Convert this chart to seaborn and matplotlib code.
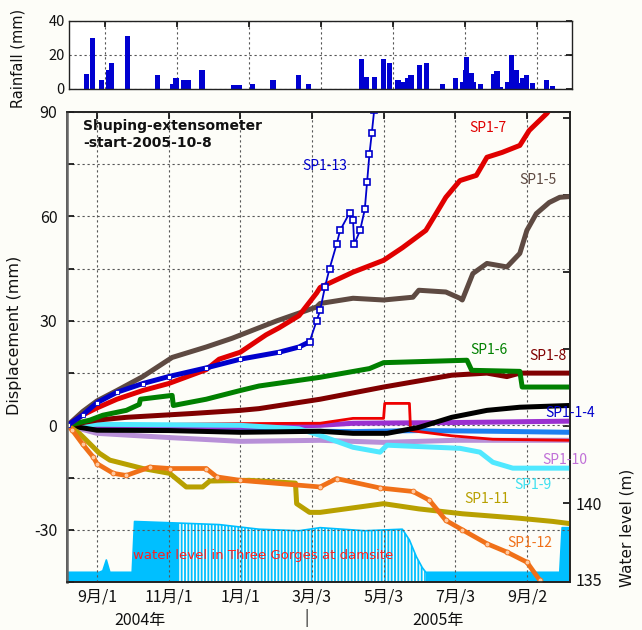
#!/usr/bin/env python3
# plot.py - Shuping extensometer displacement, rainfall and reservoir water level

import matplotlib
matplotlib.use('Agg')
import matplotlib.pyplot as plt
import numpy as np
import pandas as pd
import seaborn as sns

sns.set_theme(style='white')
plt.rcParams['font.family'] = ['DejaVu Sans', 'Noto Sans CJK JP']
plt.rcParams['hatch.linewidth'] = 1.3
CJK = ['Noto Sans CJK JP', 'DejaVu Sans']

# ---- rainfall (mm) ----
rain_dates = ['2004-08-14', '2004-08-19', '2004-08-27', '2004-09-02', '2004-09-04',
              '2004-09-18', '2004-10-13', '2004-10-26', '2004-10-29', '2004-11-04',
              '2004-11-08', '2004-11-20', '2004-12-17', '2004-12-22', '2005-01-02',
              '2005-01-19', '2005-02-10', '2005-02-18', '2005-04-04', '2005-04-08',
              '2005-04-15', '2005-04-23', '2005-04-28', '2005-05-05', '2005-05-09',
              '2005-05-13', '2005-05-16', '2005-05-23', '2005-05-29', '2005-06-12',
              '2005-06-23', '2005-06-29', '2005-07-01', '2005-07-02', '2005-07-06',
              '2005-07-08', '2005-07-14', '2005-07-25', '2005-07-28', '2005-07-31',
              '2005-08-06', '2005-08-09', '2005-08-13', '2005-08-16', '2005-08-19',
              '2005-08-22', '2005-08-27', '2005-09-08', '2005-09-13']
rain_mm = [9, 30, 5, 11, 15, 31, 8.3, 3, 6.4, 5, 5, 11.3, 2.3, 2.3, 3, 5, 8.3, 3,
           17.5, 7, 7.2, 17.5, 15, 5, 4, 6.4, 8.3, 14, 15.3, 3, 6.4, 4, 11, 18.6, 9.7,
           4, 3, 9, 10.7, 1, 4, 20, 11, 3.3, 6.4, 8.3, 3.3, 5, 2]

# ---- water level in Three Gorges at damsite (m) ----
water_dates = ['2004-08-07', '2004-09-03', '2004-09-06', '2004-09-09', '2004-09-12',
               '2004-10-01', '2004-10-03', '2004-11-09', '2004-12-14', '2005-01-17',
               '2005-02-20', '2005-03-10', '2005-04-17', '2005-05-19', '2005-05-25',
               '2005-05-31', '2005-06-05', '2005-06-08', '2005-09-30', '2005-10-02',
               '2005-10-08']
water_level = [135.5, 135.5, 135.6, 136.3, 135.5, 135.5, 138.8, 138.7, 138.6, 138.3,
               138.2, 138.4, 138.2, 138.3, 137.6, 136.5, 135.8, 135.5, 135.5, 138.4,
               138.4]

# ---- extensometer displacement (mm) ----
sp13_dates = ['2004-08-07', '2004-08-20', '2004-09-01', '2004-09-18', '2004-10-10',
              '2004-11-01', '2004-12-03', '2005-01-01', '2005-02-03', '2005-02-20',
              '2005-03-01', '2005-03-07', '2005-03-10', '2005-03-14', '2005-03-18',
              '2005-03-24', '2005-03-27', '2005-04-04', '2005-04-07', '2005-04-08',
              '2005-04-13', '2005-04-17', '2005-04-19', '2005-04-21', '2005-04-23',
              '2005-04-25']
sp13_mm = [0, 3, 6.5, 9.5, 12, 14, 16.5, 19, 21, 22.5, 24, 30, 33, 39.6, 45, 52, 56,
           61, 59, 52, 56, 62, 70, 78, 84, 90.5]

sp7_dates = ['2004-08-07', '2004-08-20', '2004-09-01', '2004-09-18', '2004-10-10',
             '2004-11-01', '2004-12-03', '2004-12-14', '2005-01-01', '2005-01-23',
             '2005-02-03', '2005-02-20', '2005-03-07', '2005-03-10', '2005-04-07',
             '2005-05-03', '2005-05-19', '2005-06-08', '2005-06-17', '2005-06-25',
             '2005-07-07', '2005-07-21', '2005-07-30', '2005-08-12', '2005-08-27',
             '2005-09-04', '2005-09-19', '2005-09-21']
sp7_mm = [0, 3, 5, 7.5, 10, 12, 16, 19, 21, 26, 28, 31.5, 38, 39.6, 44, 47.4, 51, 56,
          61, 65.5, 70.3, 71.8, 77, 78.4, 80.4, 84.7, 89.6, 90.5]

sp5_dates = ['2004-08-07', '2004-08-20', '2004-09-01', '2004-09-18', '2004-10-10',
             '2004-11-04', '2004-12-03', '2004-12-25', '2005-02-01', '2005-03-07',
             '2005-03-10', '2005-04-07', '2005-05-03', '2005-05-28', '2005-06-02',
             '2005-06-25', '2005-07-07', '2005-07-09', '2005-07-18', '2005-07-30',
             '2005-08-16', '2005-08-27', '2005-09-02', '2005-09-10', '2005-09-21',
             '2005-09-30', '2005-10-08']
sp5_mm = [0, 4, 7, 10, 14, 19.5, 22.5, 25, 30, 34, 35, 36.5, 36, 36.8, 38.8, 38.3,
          36.5, 36, 43.6, 46.5, 45.5, 49.4, 56, 60.8, 64, 65.5, 65.7]

sp6_dates = ['2004-08-07', '2004-08-26', '2004-09-06', '2004-09-26', '2004-10-07',
             '2004-10-08', '2004-11-04', '2004-11-05', '2004-12-03', '2005-01-01',
             '2005-01-17', '2005-03-10', '2005-04-21', '2005-05-03', '2005-07-13',
             '2005-07-17', '2005-08-27', '2005-08-29', '2005-10-08']
sp6_mm = [0, 1.5, 2.9, 4.3, 6, 7.5, 8.6, 5.7, 7.5, 10, 11.3, 13.8, 16.3, 18, 18.7,
          15.8, 15.5, 11, 11]

sp8_dates = ['2004-08-07', '2004-09-01', '2004-09-26', '2004-11-21', '2005-01-01',
             '2005-01-17', '2005-03-10', '2005-05-03', '2005-06-30', '2005-07-30',
             '2005-08-16', '2005-08-27', '2005-10-08']
sp8_mm = [0, 1.5, 2.3, 3.4, 4.3, 4.8, 7.5, 11, 14.4, 15, 14, 15, 15]

sp14_dates = ['2004-08-07', '2004-09-01', '2004-11-01', '2005-01-01', '2005-03-10',
              '2005-04-07', '2005-05-06', '2005-06-02', '2005-06-30', '2005-07-30',
              '2005-08-27', '2005-10-08']
sp14_mm = [0, -1.4, -1.5, -2, -1.7, -2.3, -2.3, -0.6, 2.3, 4.3, 5.2, 5.7]

azure_dates = ['2004-08-07', '2004-09-01', '2005-01-01', '2005-04-07', '2005-06-02',
               '2005-08-04', '2005-10-08']
azure_mm = [0, -0.8, -1.5, -1.8, -1.5, -1.7, -2]

violet_dates = ['2004-08-07', '2005-01-01', '2005-03-10', '2005-04-07', '2005-07-03',
                '2005-10-08']
violet_mm = [0, -0.5, 0, 0.6, 0.8, 1.2]

red2_dates = ['2004-08-07', '2005-01-01', '2005-03-10', '2005-04-07', '2005-05-03',
              '2005-05-04', '2005-05-25', '2005-05-26', '2005-06-30', '2005-08-04',
              '2005-10-08']
red2_mm = [0, 0.5, 0.6, 2, 2, 6.3, 6.3, -1.5, -3, -4, -4.3]

sp10_dates = ['2004-08-07', '2004-09-01', '2004-11-01', '2005-01-01', '2005-03-10',
              '2005-05-03', '2005-07-03', '2005-10-08']
sp10_mm = [0, -2.3, -3.5, -4.6, -4.3, -4.9, -4.3, -4.3]

sp9_dates = ['2004-08-07', '2004-09-01', '2005-01-01', '2005-02-20', '2005-03-10',
             '2005-04-07', '2005-04-30', '2005-05-06', '2005-07-07', '2005-07-24',
             '2005-08-04', '2005-08-21', '2005-10-08']
sp9_mm = [0, 0.3, 0, -1, -2.9, -6.3, -7.7, -5.7, -6.6, -7.7, -10.6, -12.3, -12.3]

sp11_dates = ['2004-08-07', '2004-08-17', '2004-08-29', '2004-09-03', '2004-09-12',
              '2004-10-10', '2004-11-02', '2004-11-16', '2004-11-30', '2004-12-06',
              '2005-01-09', '2005-02-17', '2005-02-18', '2005-03-01', '2005-03-10',
              '2005-05-03', '2005-06-02', '2005-07-09', '2005-08-27', '2005-09-24',
              '2005-10-08']
sp11_mm = [0, -2.3, -6.3, -8, -10, -12.4, -13.8, -17.7, -17.7, -16, -15.8, -16.6,
           -22.5, -25, -25, -22.5, -24, -25.4, -26.7, -27.6, -28.2]

sp12_dates = ['2004-08-07', '2004-08-11', '2004-08-20', '2004-08-29', '2004-09-01',
              '2004-09-15', '2004-09-26', '2004-10-16', '2004-11-02', '2004-12-03',
              '2004-12-12', '2005-01-01', '2005-03-10', '2005-03-24', '2005-04-30',
              '2005-05-28', '2005-06-11', '2005-06-25', '2005-07-09', '2005-07-30',
              '2005-08-16', '2005-09-02', '2005-09-13']
sp12_mm = [0, -1.4, -5.5, -9.2, -11, -13.8, -14.4, -12, -12.4, -12.4, -14.8, -15.8,
           -17.7, -15.3, -18, -19, -21.5, -27.3, -30, -34, -36.4, -39.3, -44.5]

tick_dates = ['2004-09-01', '2004-11-01', '2005-01-01', '2005-03-03', '2005-05-03',
              '2005-07-03', '2005-09-02']
tick_labels = ['9月/1', '11月/1', '1月/1', '3月/3', '5月/3', '7月/3', '9月/2']

# name: (dates, values, colour, linewidth)
series = {
    'SP1-10': (sp10_dates, sp10_mm, '#B890D8', 3.6),
    'azure': (azure_dates, azure_mm, '#1E7FF0', 3.6),
    'violet': (violet_dates, violet_mm, '#9B30D0', 3.6),
    'red2': (red2_dates, red2_mm, '#EE0000', 2.0),
    'SP1-9': (sp9_dates, sp9_mm, '#50E8FF', 3.6),
    'SP1-1-4': (sp14_dates, sp14_mm, '#000000', 3.6),
    'SP1-8': (sp8_dates, sp8_mm, '#800000', 3.6),
    'SP1-6': (sp6_dates, sp6_mm, '#008000', 3.6),
    'SP1-11': (sp11_dates, sp11_mm, '#B8A000', 3.6),
    'SP1-5': (sp5_dates, sp5_mm, '#5E4A42', 3.6),
    'SP1-7': (sp7_dates, sp7_mm, '#E00000', 3.6),
}

fig = plt.figure(figsize=(6.42, 6.30), dpi=100)
fig.patch.set_facecolor('#FDFDF8')

# ---------------- rainfall panel ----------------
axr = fig.add_axes([69 / 642, 1 - 89 / 630, 503 / 642, 68 / 630])
axr.set_facecolor('white')
axr.bar(pd.to_datetime(rain_dates), rain_mm, width=4.5, align='edge',
        color='#0000D0', linewidth=0)
axr.set_xlim(pd.Timestamp('2004-08-01 12:00'), pd.Timestamp('2005-10-01 17:00'))
axr.set_ylim(0, 40)
axr.set_yticks([0, 20, 40])
axr.set_xticks(pd.to_datetime(tick_dates))
axr.set_xticklabels([])
axr.tick_params(direction='in', length=4, top=True, right=True, bottom=False,
                labelsize=10.5, pad=3, colors='#111111')
for lbl in axr.get_yticklabels():
    lbl.set_fontfamily(CJK)
axr.grid(True, linestyle=(0, (2, 2.5)), color='#555555', linewidth=0.8)
for s in axr.spines.values():
    s.set_color('#222222')
    s.set_linewidth(1.0)
axr.set_ylabel('Rainfall (mm)', fontsize=10.5, color='#111111')
axr.yaxis.set_label_coords(-0.087, 0.45)

# ---------------- main panel ----------------
ax = fig.add_axes([67 / 642, 48 / 630, 503 / 642, 470 / 630])
ax2 = ax.twinx()
ax.set_zorder(ax2.get_zorder() + 1)
ax.patch.set_visible(False)
ax2.set_facecolor('white')

wl = pd.DataFrame({'date': pd.to_datetime(water_dates), 'level': water_level})
solid = (wl['date'] <= '2004-11-09') | (wl['date'] >= '2005-06-08')
striped = (wl['date'] >= '2004-11-09') & (wl['date'] <= '2005-06-08')
ax2.fill_between(wl['date'], 134, wl['level'], where=solid, color='#00BFFF', lw=0)
ax2.fill_between(wl['date'], 134, wl['level'], where=striped, facecolor='none',
                 edgecolor='#00BFFF', hatch='|||||', lw=0)
sns.lineplot(data=wl, x='date', y='level', ax=ax2, color='#00BFFF', lw=1.2)
ax2.set_ylim(134.87, 165.4)
ax2.set_yticks(np.arange(135, 166, 5))
ax2.set_yticklabels(['135', '140', '', '', '', '', ''])
ax2.tick_params(direction='in', length=5, labelsize=11.5, pad=4, colors='#111111')
for lbl in ax2.get_yticklabels():
    lbl.set_fontfamily(CJK)
ax2.set_ylabel('Water level (m)', fontsize=11, color='#111111', rotation=90)
ax2.yaxis.set_label_coords(1.099, 0.115)

for name, (d, v, c, w) in series.items():
    df = pd.DataFrame({'date': pd.to_datetime(d), 'mm': v})
    sns.lineplot(data=df, x='date', y='mm', ax=ax, color=c, lw=w, sort=False)

df12 = pd.DataFrame({'date': pd.to_datetime(sp12_dates), 'mm': sp12_mm})
sns.lineplot(data=df12, x='date', y='mm', ax=ax, color='#F07018', lw=3.4, sort=False,
             marker='o', markersize=3.5, markerfacecolor='#FFC8A0',
             markeredgecolor='#F07018', markeredgewidth=0.6)

# SP1-13: dense thick band early, thin line with open squares during the fast rise
df13 = pd.DataFrame({'date': pd.to_datetime(sp13_dates), 'mm': sp13_mm})
early = df13['date'] <= '2005-03-01'
sns.lineplot(data=df13[early], x='date', y='mm', ax=ax, color='#0000CC', lw=3.6,
             sort=False, marker='s', markersize=2.6, markerfacecolor='white',
             markeredgecolor='#0000CC', markeredgewidth=0.6)
sns.lineplot(data=df13[df13['date'] >= '2005-03-01'], x='date', y='mm', ax=ax,
             color='#0000CC', lw=1.3, sort=False, marker='s', markersize=4.2,
             markerfacecolor='white', markeredgecolor='#0000CC', markeredgewidth=1.2)

ax.set_xlim(pd.Timestamp('2004-08-06 12:00'), pd.Timestamp('2005-10-08 17:00'))
ax.set_ylim(-45, 90)
ax.set_yticks(np.arange(-45, 91, 15))
ax.set_yticklabels(['' if t % 30 else str(t) for t in range(-45, 91, 15)])
ax.set_xticks(pd.to_datetime(tick_dates))
ax.set_xticklabels(tick_labels)
ax.tick_params(direction='in', length=5, top=True, labelsize=11.5, pad=5,
               colors='#111111')
ax.tick_params(axis='y', pad=7)
for lbl in ax.get_xticklabels() + ax.get_yticklabels():
    lbl.set_fontfamily(CJK)
ax.grid(True, linestyle=(0, (2, 2.5)), color='#555555', linewidth=0.8)
ax.set_xlabel('')
ax.set_ylabel('Displacement (mm)', fontsize=11.5, color='#111111')
ax.yaxis.set_label_coords(-0.089, 0.525)
ax2.set_xlabel('')
for a in (ax, ax2):
    for s in a.spines.values():
        s.set_color('#222222')
        s.set_linewidth(1.2)
ax.spines['left'].set_color('#666666')
ax.spines['left'].set_linewidth(1.8)

# header text and curve labels
ax.text(0.032, 0.985, 'Shuping-extensometer\n-start-2005-10-8', transform=ax.transAxes,
        ha='left', va='top', fontsize=10, fontweight='bold', color='#111111',
        linespacing=1.25)
labels = [('SP1-13', 0.513, 0.885, '#0000CC'), ('SP1-7', 0.837, 0.966, '#E00000'),
          ('SP1-5', 0.936, 0.855, '#5E4A42'), ('SP1-6', 0.839, 0.494, '#008000'),
          ('SP1-8', 0.956, 0.481, '#800000'), ('SP1-1-4', 1.0, 0.36, '#0000CC'),
          ('SP1-10', 0.990, 0.26, '#C070D8'), ('SP1-9', 0.926, 0.206, '#40E0F0'),
          ('SP1-11', 0.835, 0.177, '#B8A000'), ('SP1-12', 0.920, 0.083, '#F07018')]
for txt, x, y, c in labels:
    ax.text(x, y, txt, transform=ax.transAxes, ha='center', va='center',
            fontsize=10, color=c, family=CJK)
ax.text(0.131, 0.057, 'water level in Three Gorges at damsite', transform=ax.transAxes,
        ha='left', va='center', fontsize=9.5, color='#FF2020')

# year row under the date ticks
ax.text(0.145, -0.081, '2004年', transform=ax.transAxes, ha='center', va='center',
        fontsize=11.5, color='#111111', family=CJK)
ax.text(0.738, -0.081, '2005年', transform=ax.transAxes, ha='center', va='center',
        fontsize=11.5, color='#111111', family=CJK)
ax.text(0.477, -0.077, '|', transform=ax.transAxes, ha='center', va='center',
        fontsize=11.5, color='#111111', family=CJK)

fig.savefig('out.png', dpi=100, facecolor=fig.get_facecolor())
